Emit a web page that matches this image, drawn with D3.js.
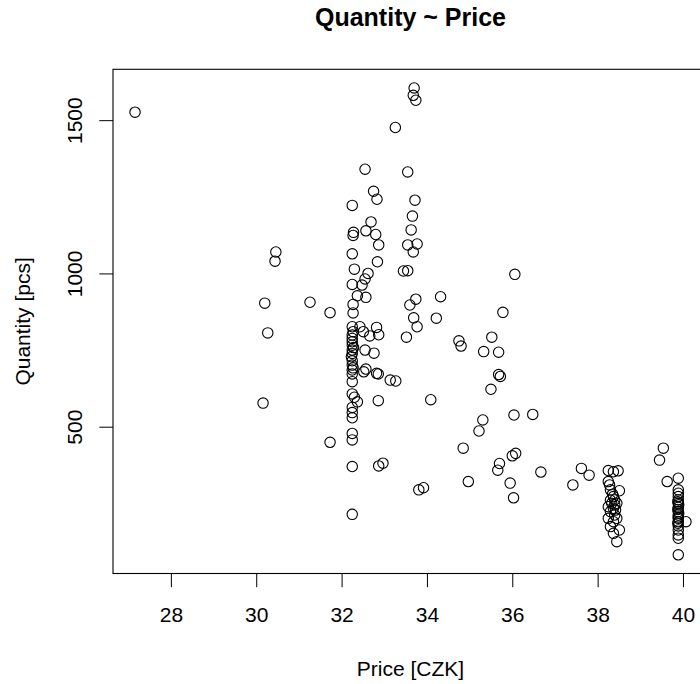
<!DOCTYPE html>
<html>
<head>
<meta charset="utf-8">
<script src="https://cdn.jsdelivr.net/npm/d3@7"></script>
<style>
body { margin: 0; background: #fff; }
text { font-family: "Liberation Sans", Arial, sans-serif; fill: #000; }
</style>
</head>
<body>
<div id="chart"></div>
<script>
const chartTitle = "Quantity ~ Price";
const xLabel = "Price [CZK]";
const yLabel = "Quantity [pcs]";
const xTicks = [28, 30, 32, 34, 36, 38, 40];
const yTicks = [500, 1000, 1500];

// one entry per observation, price[i] goes with quantity[i]
const price = [
    27.16, 30.46, 30.44, 30.20, 30.27, 30.16, 31.26, 31.73, 31.73,
    33.70, 33.68, 33.74, 33.26, 32.55, 33.55, 32.75, 32.83, 33.72, 32.25,
    33.66, 32.69, 33.63, 32.57, 32.28, 32.27, 32.80, 32.87, 33.55, 33.77,
    33.68, 32.25, 32.84, 32.30, 33.45, 33.55, 32.62, 32.55, 32.48, 32.25,
    32.37, 32.57, 34.32, 33.74, 33.60, 32.27, 32.27, 33.69, 34.22, 32.25,
    32.43, 32.82, 33.77,
    32.25, 32.25, 32.25, 32.25, 32.25, 32.25, 32.25, 32.25, 32.25, 32.25,
    32.25, 32.25, 32.30, 32.37, 32.25, 32.25, 32.25, 32.25, 32.25, 32.25,
    32.25, 32.27, 32.28, 32.23, 32.27,
    32.51, 32.66, 32.87, 33.52, 32.55, 32.76, 32.57, 32.52, 32.82, 32.86,
    33.14, 33.27, 32.86, 34.09, 34.75, 34.80, 34.85, 32.87, 32.97, 33.81,
    33.92, 34.97,
    35.22, 35.31, 35.33, 35.52, 35.68, 35.50, 35.68, 35.72, 35.78, 35.70,
    35.66, 36.06, 36.04, 36.48, 36.00, 36.08, 35.95, 36.03, 36.67,
    37.42, 37.62, 37.80,
    38.25, 38.37, 38.48, 38.25, 38.28, 38.30, 38.51, 38.37, 38.40, 38.33,
    38.25, 38.37, 38.45, 38.30, 38.40, 38.25, 38.37, 38.45, 38.30, 38.51,
    38.37, 38.45, 38.35, 38.40, 38.30, 38.42,
    39.54, 39.45, 39.63, 39.89, 39.89, 39.89, 39.89, 39.89, 39.89, 39.89,
    39.89, 39.89, 39.89, 39.89, 39.89, 39.89, 39.89, 39.89, 39.88, 39.90,
    39.88, 39.90, 39.89, 39.88, 40.07, 39.89
];
const quantity = [
    1526, 1070, 1040, 903, 806, 577, 906, 872, 449,
    1605, 1581, 1565, 1476, 1340, 1331, 1268, 1242, 1239, 1222,
    1187, 1168, 1142, 1139, 1134, 1124, 1127, 1093, 1093, 1096,
    1070, 1064, 1038, 1014, 1008, 1009, 1000, 982, 962, 964,
    927, 922, 924, 916, 897, 899, 871, 855, 854, 826,
    826, 824, 826,
    799, 788, 777, 766, 750, 739, 715, 701, 685, 672,
    647, 607, 596, 581, 563, 546, 529, 478, 457, 370,
    214, 810, 758, 728, 692,
    810, 796, 800, 792, 750, 740, 688, 679, 674, 672,
    652, 649, 585, 588, 780, 763, 430, 372, 381, 294,
    301, 321,
    486, 522, 745, 792, 743, 622, 670, 664, 873, 380,
    358, 997, 538, 540, 405, 413, 316, 268, 352,
    310, 364, 342,
    357, 353, 356, 321, 310, 294, 291, 272, 261, 250,
    239, 234, 250, 223, 212, 201, 190, 201, 174, 163,
    152, 125, 280, 245, 260, 228,
    430, 391, 321, 332, 294, 283, 272, 261, 250, 237,
    223, 212, 201, 190, 176, 163, 147, 136, 255, 245,
    230, 218, 205, 185, 190, 82
];

let width = 700, height = 684;
// plot box, right edge runs past the window like in the reference
let box = {left: 113, right: 708, top: 69.3, bottom: 573.5};

// R style axis range: data extent plus 4%
function padded(ext) {
    let d = (ext[1] - ext[0]) * 0.04;
    return [ext[0] - d, ext[1] + d];
}

let x = d3.scaleLinear()
    .domain(padded(d3.extent(price)))
    .range([box.left, box.right]);

let y = d3.scaleLinear()
    .domain(padded(d3.extent(quantity)))
    .range([box.bottom, box.top]);

let svg = d3.select("#chart")
    .append("svg")
    .attr("width", width)
    .attr("height", height);

// x axis
let xAxis = svg.append("g")
    .attr("transform", `translate(0, ${box.bottom})`)
    .call(d3.axisBottom(x).tickValues(xTicks).tickFormat(d3.format("d"))
        .tickSize(13.7).tickSizeOuter(0));
xAxis.select(".domain").remove();
xAxis.selectAll("line").attr("stroke", "#000").attr("stroke-width", 1);
xAxis.selectAll("text")
    .attr("y", 48.5)
    .attr("dy", 0)
    .style("font-size", "21px")
    .attr("font-family", null);

// y axis, labels turned like R's default las = 0
let yAxis = svg.append("g")
    .attr("transform", `translate(${box.left}, 0)`)
    .call(d3.axisLeft(y).tickValues(yTicks).tickFormat(d3.format("d"))
        .tickSize(13.7).tickSizeOuter(0));
yAxis.select(".domain").remove();
yAxis.selectAll("line").attr("stroke", "#000").attr("stroke-width", 1);
yAxis.selectAll("text")
    .attr("x", 0)
    .attr("dy", 0)
    .attr("transform", "translate(-31.5, 0) rotate(-90)")
    .style("text-anchor", "middle")
    .style("font-size", "21px")
    .attr("font-family", null);

// plot frame
svg.append("rect")
    .attr("x", box.left)
    .attr("y", box.top)
    .attr("width", box.right - box.left)
    .attr("height", box.bottom - box.top)
    .attr("fill", "none")
    .attr("stroke", "#000")
    .attr("stroke-width", 1.1);

// points, open circles (pch = 1)
let points = price.map((p, i) => ({price: p, quantity: quantity[i]}));
svg.append("g")
    .selectAll("circle")
    .data(points)
    .enter()
    .append("circle")
    .attr("cx", d => x(d.price))
    .attr("cy", d => y(d.quantity))
    .attr("r", 5.2)
    .attr("fill", "none")
    .attr("stroke", "#000")
    .attr("stroke-width", 1.1);

// titles
svg.append("text")
    .attr("x", (box.left + box.right) / 2)
    .attr("y", 26)
    .style("text-anchor", "middle")
    .style("font-size", "25px")
    .attr("font-weight", "bold")
    .text(chartTitle);

svg.append("text")
    .attr("x", (box.left + box.right) / 2)
    .attr("y", 676)
    .style("text-anchor", "middle")
    .style("font-size", "21px")
    .text(xLabel);

svg.append("text")
    .attr("transform", `translate(30, ${(box.top + box.bottom) / 2}) rotate(-90)`)
    .style("text-anchor", "middle")
    .style("font-size", "21px")
    .text(yLabel);
</script>
</body>
</html>
